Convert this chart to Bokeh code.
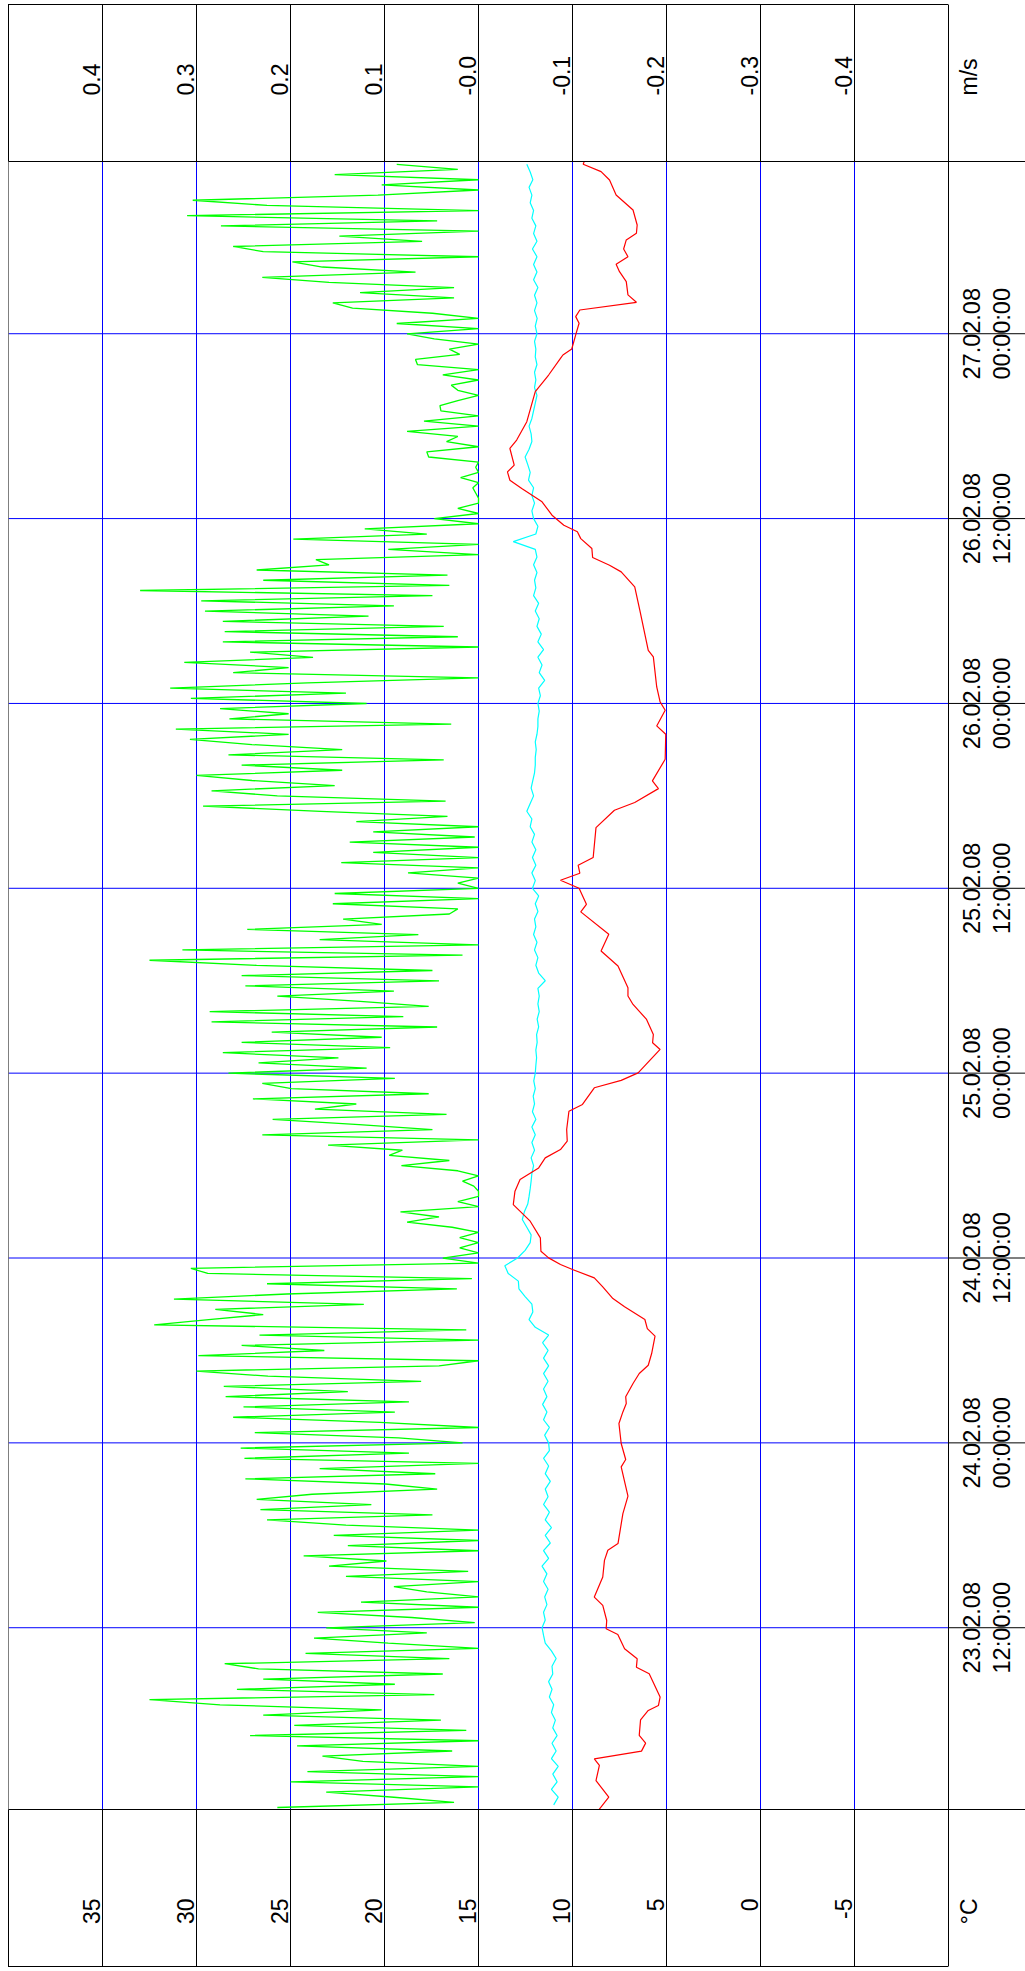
import numpy as np
from bokeh.plotting import figure
from bokeh.models import Range1d, LinearAxis, FixedTicker, Grid, Span
from bokeh.core.properties import value
from bokeh.embed import file_html
from bokeh.resources import INLINE

FONT = "Liberation Sans"

# ---------------- axes / ticks ----------------
temp_ticks = [35, 30, 25, 20, 15, 10, 5, 0, -5]
temp_tick_labels = ["35", "30", "25", "20", "15", "10", "5", "0", "-5"]
temp_unit = "°C"
speed_ticks = [0.4, 0.3, 0.2, 0.1, 0.0, -0.1, -0.2, -0.3, -0.4]
speed_tick_labels = ["0.4", "0.3", "0.2", "0.1", "-0.0", "-0.1", "-0.2", "-0.3", "-0.4"]
speed_unit = "m/s"
# time in hours since 23.02.08 00:00:00
time_ticks_h = [12, 24, 36, 48, 60, 72, 84, 96]
time_tick_labels = ["23.02.08\n12:00:00", "24.02.08\n00:00:00", "24.02.08\n12:00:00",
                    "25.02.08\n00:00:00", "25.02.08\n12:00:00", "26.02.08\n00:00:00",
                    "26.02.08\n12:00:00", "27.02.08\n00:00:00"]
time_start_h = 0.2
time_end_h = 107.18
temp_plot_range = (40, -10)        # plot box, °C
speed_plot_range = (0.5, -0.5)     # plot box, m/s

# ---------------- green series (m/s), one value every 20 min ----------------
green_first_h = 0.33
green_step_h = 1.0 / 3.0
green_speed = [
    0.214, 0.026, 0.09, 0.162, 0.0, 0.2, 0.0, 0.182, 0.0, 0.123,
    0.166, 0.028, 0.193, 0.0, 0.243, 0.013, 0.196, 0.04, 0.229, 0.103,
    0.275, 0.35, 0.047, 0.257, 0.089, 0.229, 0.038, 0.234, 0.27, 0.031,
    0.184, 0.0, 0.096, 0.175, 0.055, 0.162, 0.004, 0.071, 0.171, 0.0,
    0.125, 0.0, 0.055, 0.09, 0.0, 0.141, 0.011, 0.159, 0.098,
    0.186, 0.0, 0.139, 0.0, 0.154, 0.0, 0.141, 0.225, 0.049, 0.232,
    0.114, 0.236, 0.177, 0.044, 0.099, 0.248, 0.046, 0.169, 0.0, 0.249,
    0.074, 0.253, 0.017, 0.085, 0.238, 0.0, 0.105, 0.261, 0.089, 0.25,
    0.074, 0.269, 0.139, 0.271, 0.061, 0.224, 0.3, 0.042, 0.0, 0.298,
    0.164, 0.252, 0.0, 0.233, 0.013, 0.345, 0.287, 0.229, 0.28, 0.122,
    0.324, 0.204, 0.023,
    0.225, 0.007, 0.288, 0.306, 0.0, 0.038, 0.0, 0.02, 0.0, 0.02,
    0.0, 0.028, 0.076, 0.042, 0.083, 0.0, 0.022, 0.0, 0.0, 0.005,
    0.017, 0.0, 0.022, 0.082, 0.031, 0.095, 0.081, 0.16, 0.0, 0.23,
    0.049, 0.127, 0.219, 0.034, 0.174, 0.13, 0.24, 0.053, 0.199, 0.23,
    0.089, 0.266, 0.119, 0.234, 0.149, 0.272, 0.094, 0.252, 0.103, 0.22,
    0.044, 0.284, 0.08, 0.286, 0.053,
    0.126, 0.214, 0.09, 0.248, 0.042, 0.252, 0.049, 0.236, 0.35, 0.017,
    0.315, 0.0, 0.169, 0.064, 0.246, 0.103, 0.144, 0.031, 0.022, 0.155,
    0.0, 0.153, 0.0, 0.022, 0.0, 0.075, 0.0, 0.146, 0.0, 0.112,
    0.0, 0.137, 0.004, 0.112, 0.0, 0.13, 0.033, 0.168, 0.293, 0.035,
    0.214, 0.284, 0.153, 0.241, 0.3, 0.145, 0.252, 0.037, 0.266, 0.145,
    0.241, 0.307, 0.202, 0.322, 0.029,
    0.265, 0.202, 0.275, 0.119, 0.306, 0.141, 0.328, 0.182, 0.0, 0.261,
    0.202, 0.313, 0.176, 0.243, 0.0, 0.272, 0.022, 0.27, 0.037, 0.272,
    0.117, 0.291, 0.09, 0.295, 0.049, 0.36, 0.031, 0.229, 0.033, 0.236,
    0.159, 0.173, 0.0, 0.096, 0.0, 0.197, 0.055, 0.121, 0.0, 0.047,
    0.0, 0.022, 0.0, 0.0, 0.003, 0.006, 0.0, 0.019, 0.0, 0.003,
    0.0, 0.053, 0.055, 0.0, 0.034,
    0.022, 0.076, 0.0, 0.058, 0.0, 0.04, 0.041, 0.022, 0.0, 0.022,
    0.029, 0.0, 0.038, 0.0, 0.065, 0.067, 0.02, 0.031, 0.0, 0.047,
    0.076, 0.0, 0.087, 0.0, 0.049, 0.134, 0.155, 0.026, 0.126, 0.026,
    0.159, 0.23, 0.067, 0.166, 0.198, 0.0, 0.229, 0.261, 0.06, 0.148,
    0.0, 0.274, 0.044, 0.31, 0.0, 0.225, 0.304, 0.107, 0.0, 0.103,
    0.0, 0.153, 0.022, 0.087,
]
green_time = [green_first_h + i * green_step_h for i in range(len(green_speed))]

# ---------------- cyan series (°C), one value every 30 min ----------------
cyan_first_h = 0.5
cyan_step_h = 0.5
cyan_temp = [
    11.0, 10.76, 11.12, 10.82, 11.05, 10.76, 11.12, 10.87, 11.09, 10.82,
    11.05, 10.91, 11.12, 11.0, 11.23, 11.09, 11.27, 11.05, 11.09, 10.87,
    11.12, 11.45, 11.54, 11.62, 11.45, 11.54, 11.36, 11.48, 11.30, 11.54,
    11.36, 11.62,
    11.27, 11.54, 11.18, 11.45, 11.12, 11.45, 11.23, 11.54, 11.30, 11.45,
    11.18, 11.45, 11.27, 11.54, 11.23, 11.27, 11.48, 11.23, 11.54, 11.36,
    11.59, 11.36, 11.54, 11.30, 11.54, 11.27, 11.54, 11.30, 11.59, 11.27,
    11.98, 12.31, 12.11, 12.16, 12.52, 12.85,
    12.88, 13.42, 13.60, 12.92, 12.52, 12.25, 12.20, 12.43, 12.67, 12.56,
    12.38, 12.31, 12.25, 12.20, 12.16, 12.07, 12.20, 12.02, 12.16, 11.98,
    12.16, 11.95, 12.13, 12.02, 12.09, 11.98, 12.06, 11.98, 11.95, 11.91,
    11.95, 11.88, 11.91, 11.80, 11.88, 11.77,
    11.84, 11.77, 11.84, 11.45, 11.80, 11.95, 11.84, 12.02, 11.89, 12.07,
    11.95, 12.02, 11.84, 11.98, 11.80, 12.13, 11.98, 12.16, 11.95, 12.13,
    11.95, 12.16, 12.02, 12.25, 12.16, 12.43, 12.25, 12.07, 12.20, 12.11,
    12.02, 11.98, 11.98, 11.93, 11.98, 11.89, 11.84,
    11.84, 11.77, 11.84, 11.71, 11.80, 11.48, 11.77, 11.62, 11.84, 11.54,
    11.84, 11.66, 11.89, 11.77, 11.98, 11.80, 12.07, 11.95, 12.02, 11.89,
    12.07, 11.89, 11.98, 13.15, 11.95, 11.84, 12.07, 12.16, 12.02, 12.16,
    12.07, 12.34, 12.25, 12.38, 12.52, 12.31, 12.16,
    12.20, 12.31, 12.16, 12.07, 11.98, 11.89, 12.02, 11.95, 12.02, 11.89,
    11.98, 11.95, 12.02, 11.89, 11.98, 11.88, 12.02, 11.89, 12.02, 11.84,
    12.07, 11.89, 12.07, 11.89, 12.13, 11.89, 12.07, 11.95, 12.16, 12.07,
    12.25, 12.16, 12.31, 12.11, 12.25, 12.43,
]
cyan_time = [cyan_first_h + i * cyan_step_h for i in range(len(cyan_temp))]

# ---------------- red series (°C) ----------------
red_time = [0.18, 1.0, 2.08, 3.06, 3.49, 3.99, 4.51, 5.01, 6.02, 6.63, 6.95, 7.5, 9.01, 9.44, 9.98,
            10.63, 11.56, 11.93, 12.47, 13.45, 13.99, 15.29, 16.37, 17.03, 17.46, 19.41, 20.54,
            22.44, 22.92, 23.96, 25.26, 26.01, 26.55, 26.99, 27.85, 28.5, 29.04, 29.8, 30.93,
            31.42, 32.01, 32.83, 33.37, 34.13, 34.71, 35.25, 35.58, 36.01, 36.44, 37.31, 38.39,
            39.47, 40.34, 41.1, 41.85, 42.5, 43.04, 43.59, 44.34, 45.53, 45.97, 47.05, 47.53,
            48.02, 49.54, 49.97, 50.51, 51.49, 52.46, 53.01, 53.55, 54.96, 55.93, 57.02, 58.47,
            58.96, 60.0, 60.52, 60.98, 61.5, 62.0, 63.94, 65.07, 65.57, 66.47, 66.97, 68.38, 70.0,
            70.54, 71.56, 72.1, 73.07, 75.02, 75.45, 78.05, 79.57, 80.54, 80.97, 81.47, 82.06,
            82.7, 83.14, 83.57, 84.22, 85.09, 85.95, 86.49, 87.03, 87.47, 88.55, 89.1, 90.29,
            92.24, 93.32, 94.4, 94.62, 95.01, 95.92, 96.68, 97.11, 97.54, 98.04, 98.52, 99.38,
            100.03, 100.51, 101.0, 101.5, 102.09, 102.52, 103.06, 104.03, 105.01, 105.98, 106.52,
            107.0, 107.17]
red_temp = [8.6, 8.07, 8.75, 8.57, 8.84, 6.33, 6.11, 6.45, 6.38, 5.97, 5.43, 5.34, 5.92, 6.6, 6.56,
            7.23, 7.59, 8.21, 8.18, 8.39, 8.84, 8.39, 8.3, 8.12, 7.58, 7.32, 7.05,
            7.41, 7.17, 7.41, 7.53, 7.32, 7.14, 7.17, 6.78, 6.45, 5.97, 5.79, 5.61,
            6.02, 6.15, 7.23, 7.85, 8.39, 8.84, 10.0, 10.64, 11.27, 11.68, 11.71, 12.25,
            13.15, 13.06, 12.79, 11.8, 11.45, 10.64, 10.28, 10.31, 10.19, 9.47, 8.84, 7.41,
            6.51, 5.34, 5.74, 5.7, 6.06, 6.78, 7.05, 7.05, 7.58, 8.48, 8.07, 9.56,
            9.26, 9.65, 10.64, 9.61, 9.7, 8.9, 8.75, 7.77, 6.69, 5.43, 5.75, 5.07, 5.04,
            5.52, 5.07, 5.34, 5.52, 5.7, 5.97, 6.42, 6.69, 7.41, 8.03, 8.93, 8.97,
            9.56, 9.74, 10.46, 11.09, 11.62, 12.7, 13.33, 13.46, 13.1, 13.33, 12.97, 12.43,
            11.98, 11.27, 10.64, 10.51, 10.04, 9.83, 9.65, 9.83, 9.61, 6.6, 7.05, 7.14,
            7.5, 7.68, 7.05, 7.28, 7.14, 6.6, 6.56, 6.78, 7.68, 8.03, 8.48,
            9.43, 9.38]

# ---------------- layout (pixels) ----------------
W, H = 1025, 1971
FRAME_L, FRAME_T, FRAME_B = 8, 161, 1809
BOX_R = 948                     # right edge of the plot box
BAND = 157                      # height of the top / bottom label bands
px_per_deg = (BOX_R - FRAME_L) / (temp_plot_range[0] - temp_plot_range[1])
px_per_ms = (BOX_R - FRAME_L) / (speed_plot_range[0] - speed_plot_range[1])
temp_right = temp_plot_range[0] - (W - FRAME_L) / px_per_deg
speed_right = speed_plot_range[0] - (W - FRAME_L) / px_per_ms

def temp_at_px(px):
    return temp_plot_range[0] - (px - FRAME_L) / px_per_deg

band_lines_css = (f"linear-gradient(#000, #000) {FRAME_L}px {FRAME_T - BAND}px / {BOX_R - FRAME_L}px 1px no-repeat, "
                  f"linear-gradient(#000, #000) {FRAME_L}px {FRAME_B + BAND}px / {BOX_R - FRAME_L}px 1px no-repeat")

p = figure(width=W, height=H,
           x_range=Range1d(temp_plot_range[0], temp_right),
           y_range=Range1d(time_start_h, time_end_h),
           x_axis_type=None, y_axis_type=None,
           toolbar_location=None, output_backend="svg",
           min_border_left=FRAME_L, min_border_right=0,
           min_border_top=FRAME_T, min_border_bottom=H - FRAME_B,
           background_fill_color="white", border_fill_color=None,
           outline_line_color=None,
           styles={"background": band_lines_css})
p.extra_x_ranges = {"speed": Range1d(speed_plot_range[0], speed_right)}

common = dict(major_label_text_font=FONT, major_label_text_font_size="23px",
              major_label_text_color="black", major_label_orientation=np.pi / 2,
              axis_line_color="black", major_tick_line_color="black",
              major_tick_in=0, minor_tick_in=0, minor_tick_out=0,
              major_label_text_line_height=0.8, major_tick_out=BAND)

# °C axis (bottom band); labels sit just left of their tick line
t_over = {float(v): s + "\n " for v, s in zip(temp_ticks, temp_tick_labels)}
t_over[float(temp_plot_range[0])] = ""
t_over[float(temp_plot_range[1])] = " \n \n" + temp_unit
ax_temp = LinearAxis(ticker=FixedTicker(ticks=[temp_plot_range[0]] + temp_ticks + [temp_plot_range[1]]),
                     major_label_overrides=t_over, major_label_standoff=-68, **common)
p.add_layout(ax_temp, "below")

# m/s axis (top band)
s_over = {float(v): s + "\n " for v, s in zip(speed_ticks, speed_tick_labels)}
s_over[float(speed_plot_range[0])] = ""
s_over[float(speed_plot_range[1])] = " \n \n" + speed_unit
ax_speed = LinearAxis(x_range_name="speed",
                      ticker=FixedTicker(ticks=[speed_plot_range[0]] + speed_ticks + [speed_plot_range[1]]),
                      major_label_overrides=s_over, major_label_standoff=-91, **common)
p.add_layout(ax_speed, "above")

# grid: vertical blue lines, horizontal time lines blue inside the box, black in the time band
p.add_layout(Grid(dimension=0, ticker=FixedTicker(ticks=temp_ticks),
                  grid_line_color="#0000ff", grid_line_width=1))
p.segment(x0=temp_plot_range[0], x1=temp_plot_range[1], y0=time_ticks_h, y1=time_ticks_h,
          line_color="#0000ff", line_width=1)
p.segment(x0=temp_plot_range[1], x1=temp_right - 1, y0=time_ticks_h, y1=time_ticks_h,
          line_color="black", line_width=1)

# data
p.line(x=green_speed, y=green_time, x_range_name="speed", line_color="#00ff00", line_width=1.3)
p.line(x=cyan_temp, y=cyan_time, line_color="#00ffff", line_width=1.2)
p.line(x=red_temp, y=red_time, line_color="#ff0000", line_width=1.2)

# plot box sides
p.add_layout(Span(location=temp_plot_range[0], dimension="height", line_color="black", line_width=1))
p.add_layout(Span(location=temp_plot_range[1], dimension="height", line_color="black", line_width=1))

# time labels in the right band (two lines each, reading upwards, centred on the line)
time_date_lines = [s.split("\n")[0] for s in time_tick_labels]
time_clock_lines = [s.split("\n")[1] for s in time_tick_labels]
p.text(x=temp_at_px(970.7), y=time_ticks_h, text=time_date_lines, angle=np.pi / 2,
       text_align="center", text_baseline="middle", text_font=value(FONT),
       text_font_size=value("23.5px"), text_color="black")
p.text(x=temp_at_px(1001.7), y=time_ticks_h, text=time_clock_lines, angle=np.pi / 2,
       text_align="center", text_baseline="middle", text_font=value(FONT),
       text_font_size=value("23.5px"), text_color="black")

open("out.html", "w").write(file_html(p, INLINE))
